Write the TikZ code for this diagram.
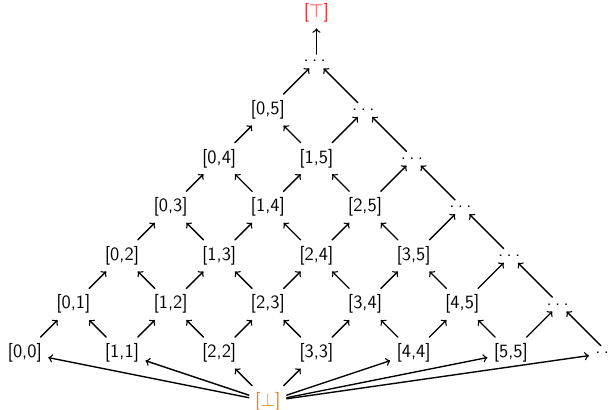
\documentclass[tikz,border=0pt]{standalone}
\newcommand\pkte{.\kern2pt.\kern2pt.\kern2pt}
\begin{document}
\begin{tikzpicture}[>=to, font=\sffamily\fontsize{11}{13}\selectfont, line join=round, line cap=round, thick]
				\useasboundingbox (-0.51,-1.17) rectangle (12.04,7.26);
				% Intervalle [i,j]
				\foreach \i in {0,...,5}{
					\foreach \j in {\i,...,5}{
						\node (a\i\j) at ({\i+\j},{\j-\i}) {[\i,\j]};
					}
					\node (d\i) at ({\i+6},{6-\i}) {\pkte};
				}
				\node (d6) at (12,0) {\pkte};
				\node[red!85] (top) at (6,7) {[$\top$]};
				\node[orange] (bot) at (5,-1) {[$\bot$]};
				% Pfeile
				\foreach \i in {1,...,5}{
					\pgfmathtruncatemacro\k{\i-1}
					\foreach \j in {\i,...,5}{
						\draw[->] (a\i\j)--(a\k\j);
					}
				}
				\foreach \i in {0,...,4}{
					\foreach \j in {\i,...,4}{
						\pgfmathtruncatemacro\l{\j+1}
						\draw[->] (a\i\j)--(a\i\l);
					}
				}
				\foreach \i in {0,...,5}{
					\draw[->] (a\i5)--(d\i);
					\draw[->] (bot)--(a\i\i);
				}
				\foreach \i in {1,...,6}{
					\pgfmathtruncatemacro\k{\i-1}
					\draw[->] (d\i)--(d\k);
				}
				\draw[->] (d0)--(top);
				\draw[->] (bot)--(d6);
\end{tikzpicture}
\end{document}
